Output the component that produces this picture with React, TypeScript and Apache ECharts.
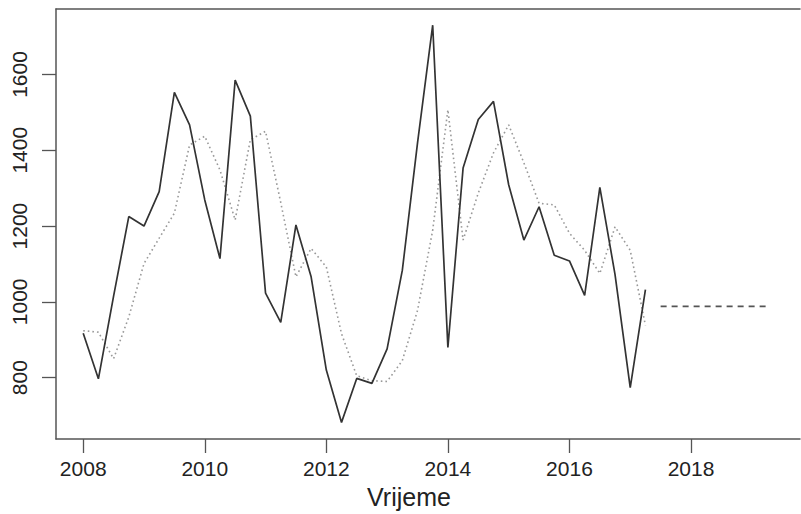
import React, { useEffect, useRef } from "react";
import * as echarts from "echarts";

// Quarterly observations 2008 Q1 .. 2017 Q2
const startYear = 2008;
const observed = [
  917, 797, 1015, 1225, 1200, 1291, 1553, 1467,
  1269, 1114, 1585, 1490, 1023, 946, 1203, 1066,
  820, 682, 798, 785, 876, 1083, 1419, 1730,
  880, 1353, 1481, 1529, 1309, 1163, 1251, 1123,
  1108, 1017, 1302, 1072, 774, 1032,
];
// Smoothed / fitted values (dotted)
const fitted = [
  924, 920, 850, 960, 1101, 1168, 1234, 1414,
  1437, 1348, 1216, 1428, 1450, 1262, 1066, 1141,
  1092, 916, 805, 792, 790, 845, 977, 1189,
  1507, 1163, 1287, 1393, 1467, 1367, 1260, 1256,
  1181, 1136, 1075, 1198, 1136, 938,
];
// Forecast 2017 Q3 .. 2019 Q2 (dashed)
const forecastStart = 2017.5;
const forecast = [988, 988, 988, 988, 988, 988, 988, 988];

const xTicks = [2008, 2010, 2012, 2014, 2016, 2018];
const yTicks = [800, 1000, 1200, 1400, 1600];
const xTitle = "Vrijeme";

export default function App() {
  const ref = useRef<HTMLDivElement>(null);
  useEffect(() => {
    if (!ref.current) return;
    const chart = echarts.init(ref.current, null, { renderer: "svg" });
    const toSeries = (vals: number[], t0: number) =>
      vals.map((v, i) => [t0 + i / 4, v]);
    const font = "Liberation Sans";
    const xMin = 2007.5525;
    const xMax = 2019.793;
    const border = { show: true, lineStyle: { color: "#555", width: 1.5 } };
    chart.setOption({
      animation: false,
      backgroundColor: "#ffffff",
      grid: {
        left: 56,
        top: 9,
        bottom: 75,
        right: 1,
        show: false,
        containLabel: false,
      },
      xAxis: [
        {
          type: "value",
          min: xMin,
          max: xMax,
          position: "bottom",
          axisLine: { ...border, onZero: false },
          splitLine: { show: false },
          axisTick: {
            show: true,
            customValues: xTicks,
            length: 14,
            lineStyle: { color: "#555", width: 1.3 },
          },
          axisLabel: {
            customValues: xTicks,
            margin: 19,
            fontFamily: font,
            fontSize: 21,
            color: "#222",
            formatter: (v: number) => String(v),
          },
        },
        {
          type: "value",
          min: xMin,
          max: xMax,
          position: "top",
          axisLine: { ...border, onZero: false },
          splitLine: { show: false },
          axisTick: { show: false },
          axisLabel: { show: false },
        },
      ],
      yAxis: {
        type: "value",
        min: 638.2,
        max: 1772.7,
        axisLine: { ...border, onZero: false },
        splitLine: { show: false },
        axisTick: {
          show: true,
          customValues: yTicks,
          length: 14,
          lineStyle: { color: "#555", width: 1.3 },
        },
        axisLabel: {
          customValues: yTicks,
          rotate: 90,
          margin: 26,
          fontFamily: font,
          fontSize: 21,
          color: "#222",
          formatter: (v: number) => String(v),
        },
      },
      graphic: [
        {
          type: "text",
          x: 409,
          y: 497,
          style: {
            text: xTitle,
            fontFamily: font,
            fontSize: 25,
            fill: "#222",
            textAlign: "center",
            textVerticalAlign: "middle",
          },
        },
      ],
      series: [
        {
          type: "line",
          data: toSeries(fitted, startYear),
          showSymbol: false,
          lineStyle: { color: "#999", width: 1.6, type: [1.6, 3] },
          z: 2,
        },
        {
          type: "line",
          data: toSeries(observed, startYear),
          showSymbol: false,
          lineStyle: { color: "#333", width: 1.7 },
          z: 3,
        },
        {
          type: "line",
          data: toSeries(forecast, forecastStart),
          showSymbol: false,
          lineStyle: { color: "#555", width: 1.6, type: [6, 5] },
          z: 3,
        },
      ],
    });
    return () => chart.dispose();
  }, []);
  return (
    <div
      ref={ref}
      style={{ position: "absolute", left: 0, top: 0, width: 801, height: 514 }}
    />
  );
}
